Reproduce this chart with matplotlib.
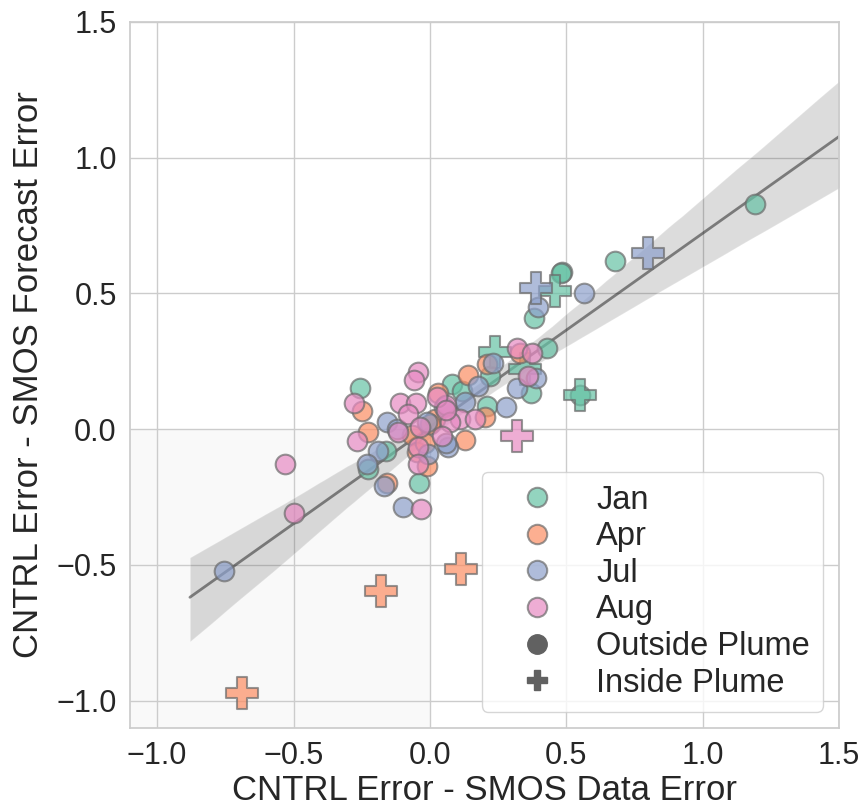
import numpy as np
import matplotlib
matplotlib.use("Agg")
import matplotlib.pyplot as plt
import seaborn as sns
from matplotlib.lines import Line2D

sns.set_theme(style="whitegrid")
plt.rcParams['font.family'] = ['Liberation Sans', 'DejaVu Sans']

# month colours (Set2)
months = ['Jan', 'Apr', 'Jul', 'Aug']
colors = sns.color_palette('Set2', 4)

# outside plume points (x = data error, y = forecast error)
jan_x = [0.485, 0.48, 0.38, 0.43, 0.22, 0.37, 0.55, 0.21, 0.08, 0.117, -0.255, -0.16, -0.226, -0.04, 1.193, 0.68]
jan_y = [0.58, 0.575, 0.41, 0.30, 0.195, 0.135, 0.125, 0.085, 0.165, 0.14, 0.153, -0.08, -0.145, -0.2, 0.83, 0.62]
apr_x = [0.33, 0.21, 0.14, 0.20, 0.13, 0.03, -0.25, -0.226, -0.066, 0.018, -0.047, -0.011, -0.157, 0.0, -0.02]
apr_y = [0.28, 0.24, 0.20, 0.045, -0.04, 0.135, 0.067, -0.01, -0.02, 0.037, -0.085, -0.135, -0.2, 0.02, -0.05]
jul_x = [0.566, 0.395, 0.23, 0.39, 0.32, 0.175, 0.28, 0.13, -0.157, -0.19, -0.23, -0.12, -0.011, 0.066, 0.06, -0.007, -0.17, -0.1, -0.755, 0.05]
jul_y = [0.50, 0.45, 0.245, 0.19, 0.15, 0.16, 0.08, 0.10, 0.025, -0.08, -0.128, 0.0, 0.026, -0.066, -0.05, -0.09, -0.21, -0.285, -0.524, 0.08]
aug_x = [0.32, 0.375, 0.36, 0.06, 0.026, 0.11, 0.073, 0.165, -0.277, -0.044, -0.06, -0.11, -0.05, -0.08, -0.267, -0.117, -0.036, 0.044, -0.044, -0.044, -0.033, -0.53, -0.50, 0.06]
aug_y = [0.30, 0.28, 0.195, 0.09, 0.117, 0.037, 0.026, 0.037, 0.098, 0.21, 0.18, 0.097, 0.097, 0.055, -0.045, -0.01, 0.007, -0.025, -0.066, -0.128, -0.293, -0.13, -0.31, 0.07]

# inside plume points
jan_in_x = [0.46, 0.237, 0.35, 0.55]
jan_in_y = [0.51, 0.285, 0.22, 0.125]
apr_in_x = [-0.69, -0.18, 0.115]
apr_in_y = [-0.97, -0.595, -0.516]
jul_in_x = [0.39, 0.80]
jul_in_y = [0.52, 0.65]
aug_in_x = [0.32]
aug_in_y = [-0.025]

out_x = [jan_x, apr_x, jul_x, aug_x]
out_y = [jan_y, apr_y, jul_y, aug_y]
in_x = [jan_in_x, apr_in_x, jul_in_x, aug_in_x]
in_y = [jan_in_y, apr_in_y, jul_in_y, aug_in_y]

fig = plt.figure(figsize=(8.66, 8.07), dpi=100)
ax = fig.add_axes([0.150, 0.098, 0.819, 0.875])

# light shading of the negative/negative quadrant
ax.fill_between([-1.1, 0], -1.1, 0, color='0.975', zorder=0, lw=0)

for i in range(4):
    ax.scatter(out_x[i], out_y[i], s=200, marker='o', color=colors[i], alpha=0.7,
               edgecolor='0.42', linewidth=1.5, zorder=3)
    ax.scatter(in_x[i], in_y[i], s=550, marker='P', color=colors[i], alpha=0.7,
               edgecolor='0.42', linewidth=1.5, zorder=3)

# regression over all points
all_x = np.concatenate([np.concatenate(out_x), np.concatenate(in_x)])
all_y = np.concatenate([np.concatenate(out_y), np.concatenate(in_y)])
ax.set_xlim(-0.88, 1.6)
sns.regplot(x=all_x, y=all_y, scatter=False, truncate=False, color='k', seed=1,
            line_kws={'alpha': 0.5, 'lw': 2}, ax=ax)

ax.set_xlim(-1.1, 1.5)
ax.set_ylim(-1.1, 1.5)
ax.set_xticks([-1.0, -0.5, 0.0, 0.5, 1.0, 1.5])
ax.set_yticks([-1.0, -0.5, 0.0, 0.5, 1.0, 1.5])
ax.tick_params(labelsize=22)
ax.set_xlabel('CNTRL Error - SMOS Data Error', fontsize=25, labelpad=2)
ax.set_ylabel('CNTRL Error - SMOS Forecast Error', fontsize=25, labelpad=8)

handles = []
for i, m in enumerate(months):
    handles.append(Line2D([], [], ls='', marker='o', markersize=14, color=colors[i], alpha=0.7,
                          markeredgecolor='0.42', markeredgewidth=1.5, label=m))
handles.append(Line2D([], [], ls='', marker='o', markersize=14, color='0.38', label='Outside Plume'))
handles.append(Line2D([], [], ls='', marker='P', markersize=14, color='0.38', label='Inside Plume'))
ax.legend(handles=handles, loc='lower right', fontsize=23.5, handlelength=2.6,
          handletextpad=0.5, labelspacing=0.17)

fig.savefig('out.png', dpi=100)
